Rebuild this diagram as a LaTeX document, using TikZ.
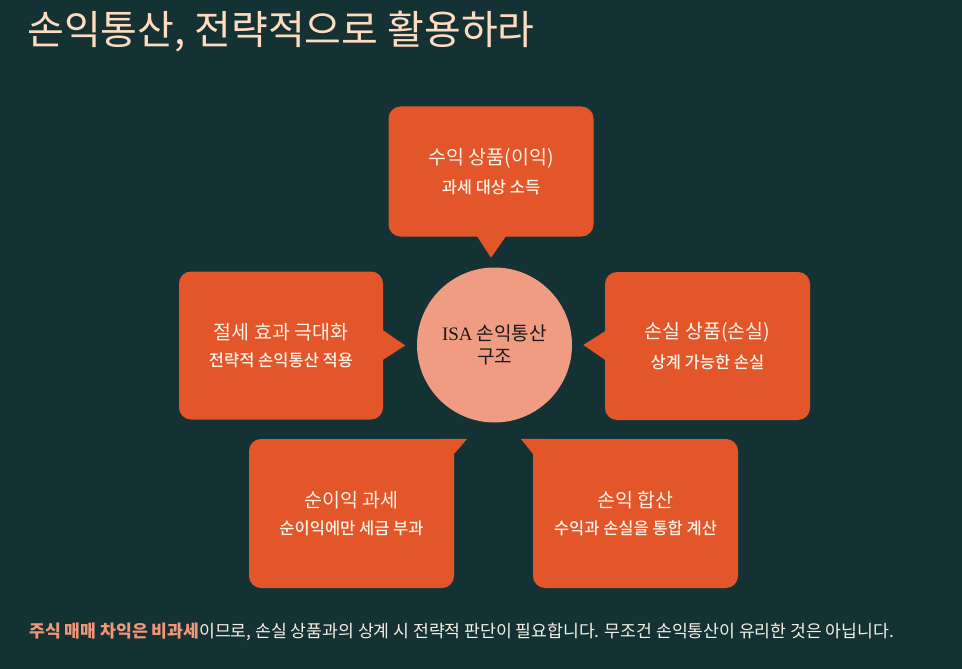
\documentclass[tikz,border=0pt]{standalone}
\usepackage{fontspec}
\setmainfont{Noto Sans CJK KR}
\newfontfamily\serifen{Liberation Serif}
\newfontfamily\cjkmed{Noto Sans CJK KR Medium}
\usetikzlibrary{calc}
\definecolor{bgc}{RGB}{20,50,51}
\definecolor{boxc}{RGB}{226,86,42}
\definecolor{circc}{RGB}{240,156,130}
\definecolor{titlec}{RGB}{255,220,193}
\definecolor{boxtxt}{RGB}{255,243,234}
\definecolor{hlc}{RGB}{242,150,120}
\definecolor{bodyc}{RGB}{248,240,232}
\tikzset{
  callout/.style={fill=boxc, rounded corners=12pt, inner sep=0pt, align=center,
     minimum width=205pt, text=boxtxt},
  ptr/.style={fill=boxc},
}
\newcommand{\bx}[2]{{\fontsize{19.5}{22}\selectfont #1}\\[11pt]{\cjkmed\fontsize{16.5}{19}\selectfont #2}}
\begin{document}
\begin{tikzpicture}[x=1pt,y=-1pt]
\fill[bgc] (0,0) rectangle (962,669);
\useasboundingbox (0,0) rectangle (962,669);
% title
\node[anchor=west, text=titlec, inner sep=0pt, font=\fontsize{40}{44}\selectfont] (title) at (27,31.5) {손익통산, 전략적으로 활용하라};
% boxes
\node[callout, minimum height=130pt] (top) at (491,171.5) {\bx{수익 상품(이익)}{과세 대상 소득}};
\node[callout, minimum width=204pt, minimum height=148pt] (left) at (281,345.5) {\bx{절세 효과 극대화}{전략적 손익통산 적용}};
\node[callout, minimum height=148pt] (right) at (707.5,346) {\bx{손실 상품(손실)}{상계 가능한 손실}};
\node[callout, minimum height=149pt] (bl) at (351.5,513.5) {\bx{순이익 과세}{순이익에만 세금 부과}};
\node[callout, minimum height=149pt] (br) at (635.5,513.5) {\bx{손익 합산}{수익과 손실을 통합 계산}};
% circle
\node[circle, fill=circc, minimum size=155pt, inner sep=0pt, align=center, text=black!90,
  font=\fontsize{19}{23}\selectfont] (c) at (494.5,345) {{\serifen ISA} 손익통산\\구조};
% pointers
\fill[ptr] ($(top.south)+(-14,-0.5)$) -- ($(top.south)+(15,-0.5)$) -- ($(top.south)+(0,21)$) -- cycle;
\fill[ptr] ($(left.east)+(-0.5,-15.5)$) -- ($(left.east)+(22,0)$) -- ($(left.east)+(-0.5,14.5)$) -- cycle;
\fill[ptr] ($(right.west)+(0.5,-15)$) -- ($(right.west)+(-21.5,-1)$) -- ($(right.west)+(0.5,14)$) -- cycle;
\fill[ptr] ($(bl.north east)+(-14,0)$) -- ($(bl.north east)+(13,0)$) -- ($(bl.north east)+(0,15)$) -- ($(bl.north east)+(-14,15)$) -- cycle;
\fill[ptr] ($(br.north west)+(14,0)$) -- ($(br.north west)+(-12,0)$) -- ($(br.north west)+(0,15)$) -- ($(br.north west)+(14,15)$) -- cycle;
% bottom text
\node[anchor=west, inner sep=0pt, text=bodyc, font=\fontsize{17.2}{20}\selectfont] (note) at (29,632)
  {{\bfseries\color{hlc}주식 매매 차익은 비과세}이므로, 손실 상품과의 상계 시 전략적 판단이 필요합니다. 무조건 손익통산이 유리한 것은 아닙니다.};
\end{tikzpicture}
\end{document}
